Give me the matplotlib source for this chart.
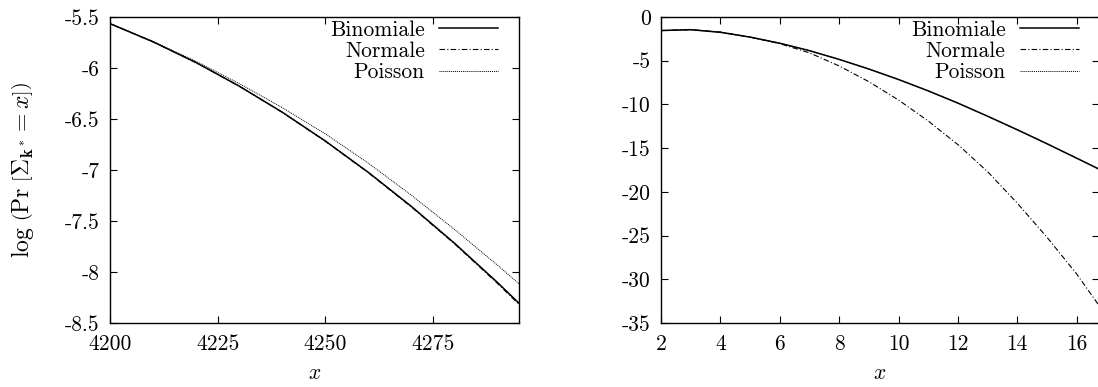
import matplotlib
matplotlib.use("Agg")
import matplotlib.pyplot as plt

plt.rcParams["font.family"] = "serif"
plt.rcParams["font.serif"] = ["cmr10"]
plt.rcParams["mathtext.fontset"] = "cm"
plt.rcParams["axes.unicode_minus"] = False
plt.rcParams["axes.formatter.use_mathtext"] = False

# left panel: large x
x_left = [4200, 4210, 4220, 4230, 4240, 4250, 4260, 4270, 4280, 4290, 4295]
binom_left = [-5.565, -5.743, -5.947, -6.177, -6.433, -6.715, -7.023, -7.357, -7.717, -8.103, -8.306]
normal_left = [-5.565, -5.744, -5.948, -6.178, -6.435, -6.718, -7.027, -7.362, -7.723, -8.112, -8.318]
poisson_left = [-5.565, -5.740, -5.935, -6.152, -6.388, -6.645, -6.933, -7.247, -7.582, -7.933, -8.116]

# right panel: small x
x_right = [2, 3, 4, 5, 6, 7, 8, 9, 10, 11, 12, 13, 14, 15, 16, 16.75]
binom_right = [-1.55, -1.45, -1.75, -2.3, -3.0, -3.85, -4.85, -5.95, -7.15, -8.45, -9.85,
               -11.35, -12.9, -14.5, -16.15, -17.4]
normal_right = [-1.55, -1.45, -1.72, -2.3, -3.05, -4.1, -5.6, -7.4, -9.5, -11.9, -14.6,
                -17.7, -21.3, -25.2, -29.4, -33.0]
poisson_right = [-1.55, -1.45, -1.75, -2.3, -3.0, -3.85, -4.85, -5.95, -7.15, -8.45, -9.85,
                 -11.35, -12.9, -14.5, -16.15, -17.4]

fig = plt.figure(figsize=(10.98, 3.87), dpi=100)
ax1 = fig.add_axes([110 / 1098, 64 / 387, 409 / 1098, 306 / 387])
ax2 = fig.add_axes([661 / 1098, 64 / 387, 438 / 1098, 306 / 387])

fs = 15.5


def draw(ax, x, b, n, p, leg_x):
    ax.plot(x, b, color="black", lw=1.1, label="Binomiale")
    ax.plot(x, n, color="black", lw=0.8, dashes=(5, 2, 1, 2), label="Normale")
    ax.plot(x, p, color="black", lw=0.7, dashes=(1, 1), label="Poisson")
    ax.tick_params(direction="in", top=True, right=True, length=5, width=0.8,
                   labelsize=fs)
    ax.tick_params(axis="x", pad=8)
    ax.tick_params(axis="y", pad=7.5)
    for s in ax.spines.values():
        s.set_linewidth(1.0)
    ax.set_xlabel("$x$", fontsize=fs, labelpad=7)
    ax.legend(loc="upper right", bbox_to_anchor=(leg_x, 0.99), frameon=False,
              markerfirst=False, fontsize=fs, handlelength=2.75, handletextpad=0.65,
              labelspacing=0.08, borderpad=0, borderaxespad=0)


draw(ax1, x_left, binom_left, normal_left, poisson_left, 0.949)
ax1.set_xlim(4200, 4295)
ax1.set_ylim(-8.5, -5.5)
ax1.set_xticks([4200, 4225, 4250, 4275])
ax1.set_yticks([-5.5, -6, -6.5, -7, -7.5, -8, -8.5])
ax1.set_yticklabels(["-5.5", "-6", "-6.5", "-7", "-7.5", "-8", "-8.5"])
ax1.set_ylabel(r"$\log\,\left(\Pr\,\left[\Sigma_{\mathbf{k}^*} = x\right]\right)$",
               fontsize=17)
ax1.yaxis.set_label_coords(-0.18, 0.5)

draw(ax2, x_right, binom_right, normal_right, poisson_right, 0.954)
ax2.set_xlim(2, 16.75)
ax2.set_ylim(-35, 0)
ax2.set_xticks([2, 4, 6, 8, 10, 12, 14, 16])
ax2.set_yticks([0, -5, -10, -15, -20, -25, -30, -35])
ax2.set_yticklabels(["0", "-5", "-10", "-15", "-20", "-25", "-30", "-35"])

fig.savefig("out.png", dpi=100)
